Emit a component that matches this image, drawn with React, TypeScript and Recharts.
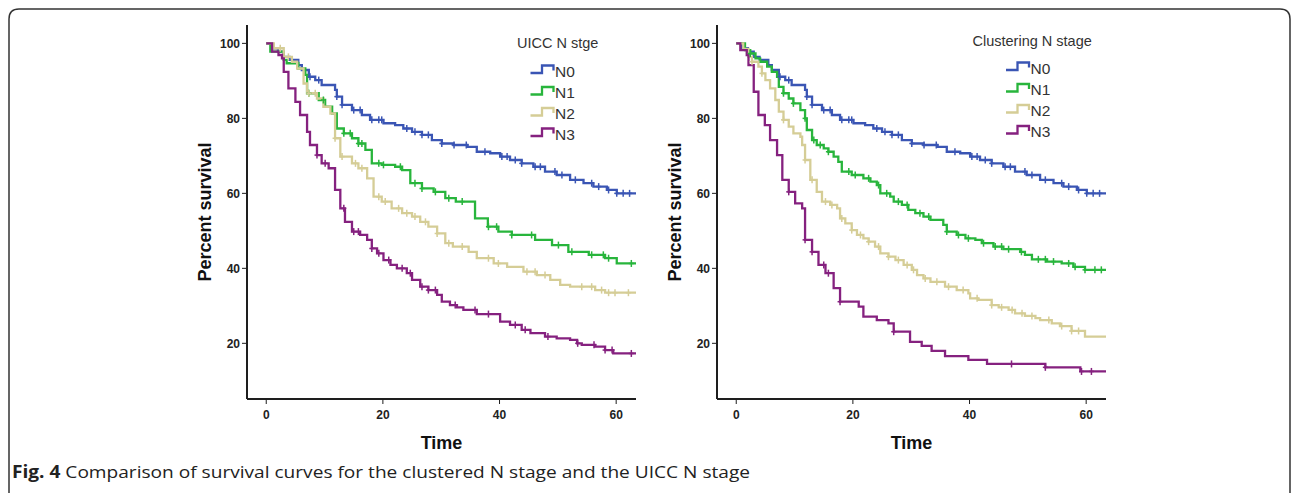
import { ComposedChart, Line, Scatter, XAxis, YAxis } from "recharts";

type Pt = [number, number];

// axes and legend
const xTicks = [0, 20, 40, 60];
const yTicks = [20, 40, 60, 80, 100];
const stageNames = ["N0", "N1", "N2", "N3"];
const stageColors = ["#3a55b4", "#28b53c", "#d5cd96", "#85217f"];

// UICC N stage: [time, percent survival] at each step
const uiccN0: Pt[] = [
  [0, 100], [1, 98.7], [2, 97.8], [3, 96.4], [4, 95.6], [5.5, 94.2], [6.1, 92.9], [7.3, 91.1],
  [8.4, 90.2], [9.5, 88.9], [11.8, 87.6], [12.1, 85.8], [13, 83.6], [14.7, 82.2], [16.4, 80.9],
  [17.8, 79.6], [20.1, 78.7], [22.1, 78.2], [23.5, 77.3], [25, 76.4], [26.7, 75.6], [28.4, 74.2],
  [30.1, 73.3], [32.1, 72.9], [34.5, 72.4], [36.1, 71.1], [38.4, 70.7], [40.1, 69.8], [41.8, 68.9],
  [43.8, 68], [45.8, 67.1], [47.8, 65.8], [49.8, 64.9], [52.1, 63.6], [54.4, 62.7], [56.1, 61.8],
  [58.4, 60.9], [60.1, 60], [63.4, 60]
];
const uiccN1: Pt[] = [
  [0, 100], [0.7, 97.8], [3, 95.6], [3.5, 94.7], [5.5, 93.3], [6.7, 91.6], [7, 86.7], [9, 84.9],
  [10.1, 83.1], [11.3, 81.3], [12.1, 77.3], [13.3, 76], [14.7, 74.7], [15.8, 73.3], [17, 71.6],
  [18.1, 68], [19.8, 67.6], [22.1, 67.1], [23.3, 66.2], [24.7, 62.7], [26.7, 61.3], [28.7, 60.4],
  [30.7, 58.7], [32.5, 57.8], [35.8, 53.3], [38, 51.1], [39.8, 49.8], [42.1, 48.9], [46.1, 47.6],
  [49, 46.2], [51.8, 44.4], [55.3, 43.6], [58.1, 42.7], [60.1, 41.3], [63.4, 41.3]
];
const uiccN2: Pt[] = [
  [0, 100], [1.3, 98.7], [3, 96.4], [4.4, 95.1], [5.3, 93.3], [6.4, 89.3], [7, 86.7], [8.7, 85.3],
  [9.8, 83.1], [11, 81.3], [11.8, 74.7], [12.7, 69.8], [14.7, 68], [15.8, 66.7], [17.3, 64],
  [18.4, 59.1], [19.8, 57.8], [21.5, 56], [23.3, 54.7], [25, 53.8], [26.4, 52.4], [27.8, 51.1],
  [29.3, 49.3], [30.7, 46.7], [32, 45.8], [34.7, 44.4], [36.1, 42.7], [39, 41.3], [41.3, 40.4],
  [44.1, 39.1], [46.4, 38.2], [48.7, 36.9], [50.4, 35.6], [52.1, 35.1], [56.4, 34.2], [58.1, 33.5],
  [63.4, 33.5]
];
const uiccN3: Pt[] = [
  [0, 100], [1, 97.8], [2.1, 96.9], [2.7, 96], [3, 92.4], [3.8, 88], [5, 84.4], [5.8, 80.9],
  [7, 76.4], [7.5, 72.9], [8.7, 70.2], [9.5, 68], [10.7, 66.7], [11.8, 60.9], [12.7, 56],
  [13.5, 52.4], [14.7, 49.8], [16.1, 48.9], [17.3, 47.6], [18.1, 45.3], [19, 44], [20.1, 42.2],
  [21.3, 40.9], [22.4, 40], [24.1, 38.7], [25, 36.9], [26.4, 35.1], [27.8, 34.2], [29.3, 32.9],
  [30.1, 31.1], [31.5, 30.2], [32.7, 29.6], [33.8, 28.9], [36.1, 27.8], [40.1, 25.8], [41.8, 24.9],
  [43.8, 23.6], [45.3, 22.7], [47.8, 21.8], [49.8, 21.3], [52.1, 20.9], [53.3, 20], [54.1, 19.6],
  [56.4, 19.1], [58.1, 18.2], [59.5, 17.3], [63.4, 17.3]
];

// UICC censored times
const uiccN0Cens = [7.5, 9, 12.1, 13, 15, 16.1, 18.1, 19.3, 19.8, 24.1, 25.5, 26.7, 27.8, 30.1, 32.2,
  34.3, 37.5, 40.4, 41.3, 42.7, 43.8, 46.1, 47, 49.5, 50.7, 53, 55.8, 57, 58.7, 60.1, 61.2, 62.3];
const uiccN1Cens = [7.3, 9.8, 13.3, 14.4, 15.8, 16.4, 19.3, 20.1, 23, 25.5, 26.7, 29, 31.3, 33.6,
  38.1, 39.5, 42.1, 45.5, 50.1, 52.4, 55.8, 57.8, 58.7, 62.6];
const uiccN2Cens = [2.4, 3.8, 7.3, 8.4, 11.8, 13, 15.3, 16.4, 19.3, 20.4, 22.7, 24.1, 25.5, 27.3, 29.3,
  31.3, 33.6, 38.1, 39.8, 44.7, 46.1, 47.8, 54.1, 55.8, 57.5, 58.7, 59.8, 62.1];
const uiccN3Cens = [8.7, 10.1, 13.3, 15, 15.8, 18.1, 19.3, 21, 23.3, 24.7, 26.7, 27.8, 29, 32.4, 35.8,
  38.1, 42.7, 44.4, 48.3, 53.4, 56.2, 58.1, 59.3, 62.6];

// Clustering N stage
const clusN0: Pt[] = uiccN0.slice();
const clusN1: Pt[] = [
  [0, 100], [1.5, 98.2], [2.4, 97.3], [3.3, 96], [4.1, 95.1], [5.3, 93.8], [6.1, 92.4], [7, 91.1],
  [7.3, 88.4], [8.1, 86.7], [9, 85.3], [9.8, 84], [11, 82.2], [11.8, 80], [12.1, 76.9], [13, 74.2],
  [13.8, 72.9], [15, 72], [15.8, 71.1], [16.7, 69.8], [17.5, 68.4], [18.1, 65.8], [19.8, 64.9],
  [21.8, 64], [23, 63.1], [24.1, 62.2], [24.7, 60], [26.4, 59.1], [27, 57.8], [28.4, 56.9],
  [29.5, 55.6], [30.7, 54.7], [32.1, 53.8], [33.3, 52.9], [35.5, 51.6], [36.1, 49.8], [37.8, 48.9],
  [39.3, 48], [41, 47.6], [42.1, 46.7], [44.1, 45.8], [45.8, 45.1], [48.7, 44.4], [49.5, 43.6],
  [50.7, 42.4], [53.3, 41.8], [55.8, 41.3], [57.8, 40.4], [59.8, 39.6], [63.4, 39.6]
];
const clusN2: Pt[] = [
  [0, 100], [1.2, 98.5], [2.1, 96.4], [2.7, 95.1], [3.8, 93.8], [4.4, 92], [5, 90.2], [5.8, 88],
  [6.7, 84.9], [7.3, 81.8], [8.1, 79.6], [9, 77.8], [9.8, 76], [11, 75.1], [11.3, 72.9], [11.8, 68.9],
  [12.7, 63.6], [13.8, 60.4], [14.7, 57.8], [16.1, 56.9], [17.3, 56], [17.8, 53.3], [18.7, 52],
  [19.8, 50.2], [20.7, 48.9], [21.8, 48], [22.7, 47.1], [23.8, 45.8], [24.7, 44], [26.1, 43.1],
  [27.3, 42.2], [28.7, 40.9], [30.1, 39.6], [31, 38.2], [32.1, 37.3], [33.3, 36.4], [35.8, 35.1],
  [37.8, 34.2], [39.8, 33.3], [40.1, 32], [41.5, 31.6], [43.8, 30.2], [45, 29.6], [46.7, 28.9],
  [47.8, 28], [49.5, 27.3], [51.3, 26.7], [52.1, 26.2], [54.1, 25.3], [55.5, 24.6], [57.5, 23.3],
  [59.8, 21.8], [63.4, 21.8]
];
const clusN3: Pt[] = [
  [0, 100], [0.7, 98.2], [1.8, 96.9], [2.1, 94.2], [3, 87.1], [3.8, 80.9], [4.9, 78.2], [5.8, 74.2],
  [7, 70.2], [7.9, 63.6], [9, 60.4], [10.1, 57.3], [11.3, 56], [11.8, 47.6], [13, 44.4], [14.1, 40.9],
  [15.3, 38.7], [16.7, 34.7], [17.8, 31.1], [21, 29.8], [21.8, 27.1], [24.1, 26.2], [26.1, 25.3],
  [27, 23.1], [29.8, 20.4], [31.8, 19.3], [33.5, 18], [35.8, 16.6], [39.8, 15.6], [43, 14.5],
  [53, 13.6], [59, 12.5], [63.4, 12.5]
];

const clusN0Cens = uiccN0Cens.slice();
const clusN1Cens = [2.4, 8.1, 9.8, 11.8, 13.3, 14.4, 15.8, 19.3, 20.4, 22.7, 24.4, 25.8, 27.8, 29.3,
  31.5, 33, 36.1, 38.1, 39.8, 42.4, 44.4, 45.5, 46.7, 48.9, 51.8, 53, 54.4, 57, 58.1, 59.8, 61.5, 62.6];
const clusN2Cens = [2.7, 4.4, 8.1, 11.8, 13, 15.3, 16.4, 18.1, 19.8, 21.3, 22.7, 24.4, 26.1, 27.8,
  29.3, 30.4, 32.4, 34.4, 36.4, 38.9, 41.3, 43.8, 45.5, 47.3, 49, 50.7, 53.6, 55.8, 57.5, 58.7];
const clusN3Cens = [9, 11.8, 13, 15, 15.8, 17.8, 27, 47.2, 53, 59.2, 60.9];

const font = "Arial, 'Liberation Sans', sans-serif";

function toRows(pts: Pt[]) {
  return pts.map(([t, s]) => ({ t, s }));
}

// censor marks sit on the step curve
function censorRows(pts: Pt[], times: number[]) {
  return times.map((t) => {
    let s = pts[0][1];
    for (const [pt, ps] of pts) if (pt <= t) s = ps;
    return { t, s };
  });
}

const CensorMark = (props: any) => {
  const { cx, cy, fill } = props;
  return (
    <g stroke={fill} strokeWidth={1.5}>
      <line x1={cx} x2={cx} y1={cy - 3.5} y2={cy + 3.5} />
      <line x1={cx - 2.5} x2={cx + 2.5} y1={cy} y2={cy} />
    </g>
  );
};

function SurvivalPanel({ left, series, censored }: { left: number; series: Pt[][]; censored: number[][] }) {
  const tick = { fontSize: 12, fontWeight: 700, fill: "#222", fontFamily: font };
  return (
    <div style={{ position: "absolute", left, top: 20 }}>
      <ComposedChart width={460} height={440} margin={{ top: 5, right: 14, bottom: 6, left: 0 }}>
        <XAxis
          type="number"
          dataKey="t"
          domain={[-3.3, 63.4]}
          ticks={xTicks}
          allowDataOverflow
          height={55}
          tick={tick}
          tickSize={5}
          tickMargin={6}
          axisLine={{ stroke: "#1e1e1e", strokeWidth: 2 }}
          tickLine={{ stroke: "#1e1e1e" }}
          label={{ value: "Time", position: "insideBottom", offset: 5, style: { fontSize: 18, fontWeight: 700, fill: "#111", fontFamily: font } }}
        />
        <YAxis
          type="number"
          dataKey="s"
          domain={[5.15, 104.9]}
          ticks={yTicks}
          allowDataOverflow
          width={57}
          tick={tick}
          tickSize={5}
          tickMargin={2}
          axisLine={{ stroke: "#1e1e1e", strokeWidth: 2 }}
          tickLine={{ stroke: "#1e1e1e" }}
          label={{ value: "Percent survival", angle: -90, position: "insideLeft", offset: 15, style: { textAnchor: "middle", fontSize: 18, fontWeight: 700, fill: "#111", fontFamily: font } }}
        />
        {series.map((pts, i) => (
          <Line
            key={"l" + i}
            data={toRows(pts)}
            dataKey="s"
            type="stepAfter"
            stroke={stageColors[i]}
            strokeWidth={2.3}
            dot={false}
            isAnimationActive={false}
          />
        ))}
        {series.map((pts, i) => (
          <Scatter
            key={"c" + i}
            data={censorRows(pts, censored[i])}
            dataKey="s"
            fill={stageColors[i]}
            shape={CensorMark}
            isAnimationActive={false}
          />
        ))}
      </ComposedChart>
    </div>
  );
}

function LegendBlock({ title, titleX, titleY, iconX, rowsY }: { title: string; titleX: number; titleY: number; iconX: number; rowsY: number[] }) {
  return (
    <g style={{ fontFamily: font }}>
      <text x={titleX} y={titleY} fontSize={14.5} fill="#333" dominantBaseline="central">{title}</text>
      {stageNames.map((name, i) => {
        const y = rowsY[i];
        return (
          <g key={name}>
            <path
              d={`M${iconX},${y + 2.5} H${iconX + 11.5} V${y - 5} H${iconX + 23} V${y}`}
              fill="none"
              stroke={stageColors[i]}
              strokeWidth={2.3}
            />
            <text x={iconX + 24.5} y={y + 0.5} fontSize={15.5} fill="#333" dominantBaseline="central">{name}</text>
          </g>
        );
      })}
    </g>
  );
}

export default function App() {
  return (
    <div style={{ position: "absolute", left: 0, top: 0, width: 1292, height: 494, background: "#fff", overflow: "hidden" }}>
      <SurvivalPanel left={190} series={[uiccN0, uiccN1, uiccN2, uiccN3]} censored={[uiccN0Cens, uiccN1Cens, uiccN2Cens, uiccN3Cens]} />
      <SurvivalPanel left={660} series={[clusN0, clusN1, clusN2, clusN3]} censored={[clusN0Cens, clusN1Cens, clusN2Cens, clusN3Cens]} />
      <svg width={1292} height={494} style={{ position: "absolute", left: 0, top: 0, pointerEvents: "none" }}>
        <path d="M9,493 V19 Q9,9 19,9 H1280 Q1290,9 1290,19 V493" fill="none" stroke="#333" strokeWidth={1.5} />
        <LegendBlock title="UICC N stge" titleX={517} titleY={43.3} iconX={530.5} rowsY={[70.5, 92, 113, 133.5]} />
        <LegendBlock title="Clustering N stage" titleX={972.5} titleY={40.7} iconX={1006} rowsY={[67.5, 89, 110, 131]} />
        <text x={12} y={478} fontSize={17} fill="#222" fontFamily="'Open Sans', 'Liberation Sans', sans-serif" textLength={738} lengthAdjust="spacingAndGlyphs">
          <tspan fontWeight={700}>Fig. 4</tspan> Comparison of survival curves for the clustered N stage and the UICC N stage
        </text>
      </svg>
    </div>
  );
}
